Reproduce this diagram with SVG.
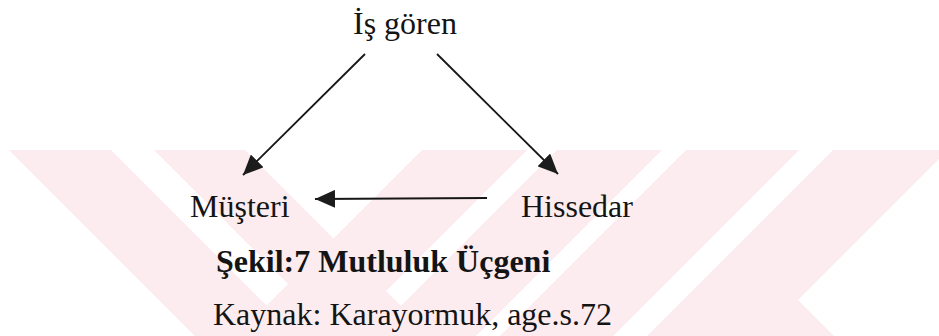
<svg xmlns="http://www.w3.org/2000/svg" width="939" height="336" viewBox="0 0 939 336">
  <style>
    .lbl { font-family: "Liberation Serif", "Times New Roman", serif; font-size: 32px; fill: #141414; }
    .cap { font-weight: bold; }
    .edge { stroke: #161616; stroke-width: 1.8; fill: none; }
    .wm { fill: #fcecef; }
  </style>
  <defs>
    <marker id="head" viewBox="0 0 20 18" refX="20" refY="9" markerWidth="20" markerHeight="18" markerUnits="userSpaceOnUse" orient="auto">
      <path d="M0,0 L20,9 L0,18 Z" fill="#1c1c1c"/>
    </marker>
    <clipPath id="wmClip">
      <rect x="0" y="150" width="939" height="186"/>
    </clipPath>
  </defs>

  <rect width="939" height="336" fill="#ffffff"/>

  <!-- faint background stripe pattern -->
  <g id="watermark" class="wm" clip-path="url(#wmClip)">
    <polygon points="9,150 111,150 297,336 195,336"/>
    <polygon points="154,150 245,150 431,336 340,336"/>
    <polygon points="422,150 527,150 341,336 236,336"/>
    <polygon points="557,150 662,150 476,336 371,336"/>
    <polygon points="686,150 799,150 613,336 500,336"/>
    <polygon points="833,150 948,150 762,336 647,336"/>
    <polygon points="798,300 834,336 762,336"/>
  </g>

  <g id="connectors">
    <line class="edge" x1="365" y1="54" x2="243" y2="175" marker-end="url(#head)"/>
    <line class="edge" x1="437" y1="54" x2="558" y2="174" marker-end="url(#head)"/>
    <line class="edge" x1="487" y1="198" x2="315" y2="199" marker-end="url(#head)"/>
  </g>

  <g id="node-isgoren">
    <text class="lbl" x="353" y="34">İş gören</text>
  </g>
  <g id="node-musteri">
    <text class="lbl" x="190" y="217">Müşteri</text>
  </g>
  <g id="node-hissedar">
    <text class="lbl" x="521" y="217">Hissedar</text>
  </g>

  <g id="caption">
    <text class="lbl cap" x="216" y="272">Şekil:7 Mutluluk Üçgeni</text>
    <text class="lbl" x="213" y="325">Kaynak: Karayormuk, age.s.72</text>
  </g>
</svg>
